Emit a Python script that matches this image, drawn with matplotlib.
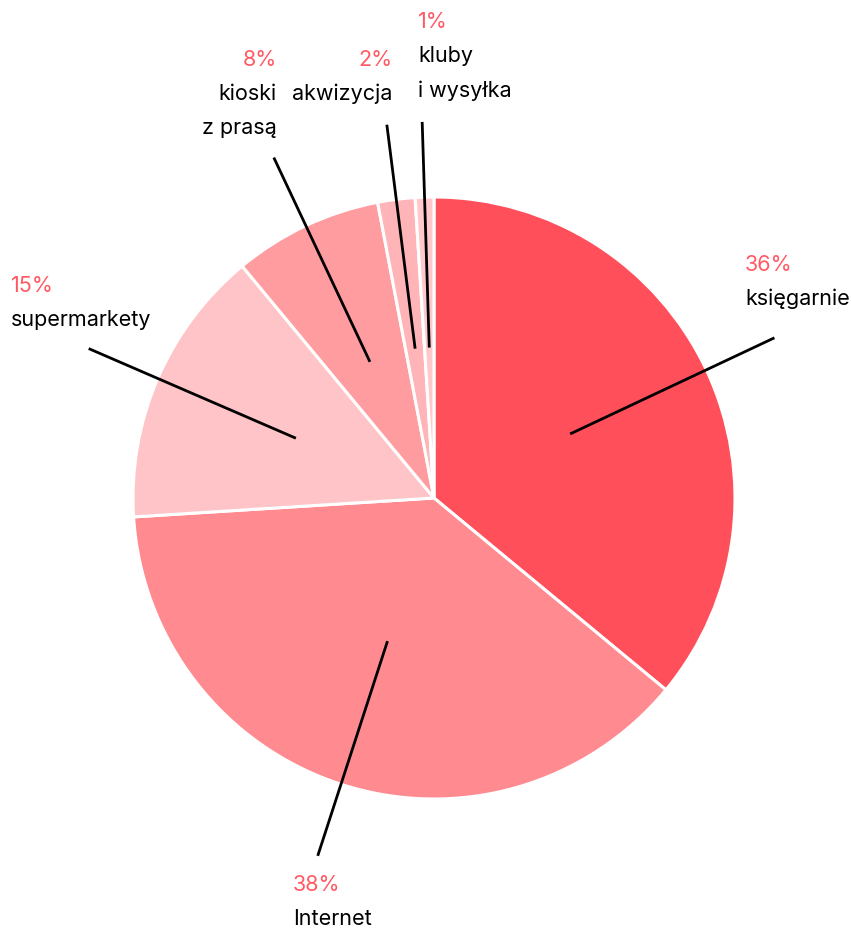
import numpy as np
import matplotlib.pyplot as plt

labels = ["księgarnie", "Internet", "supermarkety", "kioski\nz prasą", "akwizycja", "kluby\ni wysyłka"]
values = [36, 38, 15, 8, 2, 1]
colors = ["#FF4F5A", "#FF8A8F", "#FFC4C7", "#FF9CA0", "#FFB4B8", "#FFC9CC"]

# label anchor (pixels) and alignment for each slice
label_pos = [(745, 265, "left"), (293, 885, "left"), (11, 286, "left"),
             (277, 60, "right"), (392, 60, "right"), (418, 22, "left")]

plt.rcParams['font.family'] = ['Inter', 'DejaVu Sans']

W, H = 851, 930
fig = plt.figure(figsize=(W / 100, H / 100), dpi=100)
ax = fig.add_axes([0, 0, 1, 1])
ax.set_aspect('equal')

cx, cy, R = 434, 498, 301
# y axis is inverted, so counterclock=True draws clockwise on screen
wedges, _ = ax.pie(values, colors=colors, startangle=-90, counterclock=True,
                   center=(cx, cy), radius=R, frame=True,
                   wedgeprops=dict(edgecolor="white", linewidth=2.2))
ax.set_xlim(0, W)
ax.set_ylim(H, 0)
ax.axis('off')

for w, lab, val, (lx, ly, ha) in zip(wedges, labels, values, label_pos):
    mid = np.deg2rad((w.theta1 + w.theta2) / 2)
    x0, y0 = cx + 0.5 * R * np.cos(mid), cy + 0.5 * R * np.sin(mid)
    x1, y1 = cx + 1.25 * R * np.cos(mid), cy + 1.25 * R * np.sin(mid)
    ax.plot([x0, x1], [y0, y1], color="black", lw=2.0, solid_capstyle="butt")
    ax.text(lx, ly, f"{val}%", color="#FF5A64", fontsize=15.5, ha=ha, va="center")
    for i, line in enumerate(lab.split("\n")):
        ax.text(lx, ly + 34 + 34.5 * i, line, color="black", fontsize=15.5, ha=ha, va="center")

fig.savefig("out.png", dpi=100)
